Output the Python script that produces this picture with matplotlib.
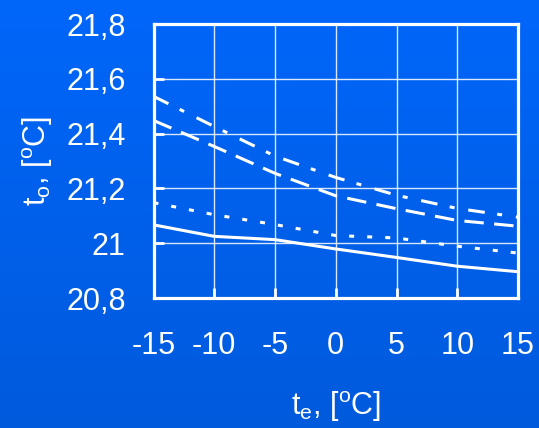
import numpy as np
import matplotlib
matplotlib.use("Agg")
import matplotlib.pyplot as plt
from matplotlib.colors import LinearSegmentedColormap

plt.rcParams['font.family'] = ['Liberation Sans', 'DejaVu Sans']
plt.rcParams['mathtext.fontset'] = 'custom'
plt.rcParams['mathtext.rm'] = 'Liberation Sans'
plt.rcParams['mathtext.it'] = 'Liberation Sans'
plt.rcParams['lines.scale_dashes'] = False

te = [-15, -10, -5, 0, 5, 10, 15]
solid = [21.067, 21.025, 21.013, 20.979, 20.948, 20.916, 20.896]
dotted = [21.148, 21.104, 21.068, 21.028, 21.019, 20.989, 20.964]
dashed = [21.448, 21.353, 21.255, 21.173, 21.126, 21.083, 21.062]
dashdot = [21.536, 21.426, 21.318, 21.240, 21.175, 21.127, 21.095]

xticks = [-15, -10, -5, 0, 5, 10, 15]
yticks = [20.8, 21.0, 21.2, 21.4, 21.6, 21.8]
ytick_labels = ['20,8', '21', '21,2', '21,4', '21,6', '21,8']

W, H = 539, 428
fig = plt.figure(figsize=(W / 100, H / 100), dpi=100)

# background gradient
bg = fig.add_axes([0, 0, 1, 1], zorder=-10)
cmap = LinearSegmentedColormap.from_list('bg', ['#0066FA', '#005ADC'])
grad = np.linspace(0, 1, 256).reshape(-1, 1)
bg.imshow(grad, aspect='auto', cmap=cmap, extent=[0, 1, 0, 1], origin='upper')
bg.axis('off')

left, right, top, bottom = 153.5, 518, 24, 298
ax = fig.add_axes([left / W, 1 - bottom / H, (right - left) / W, (bottom - top) / H])
ax.set_facecolor('none')

lw = 2.2
ax.plot(te, solid, color='white', lw=lw, solid_capstyle='butt')
l2, = ax.plot(te, dotted, color='white', lw=lw)
l2.set_dashes([3.6, 9.4])
l3, = ax.plot(te, dashed, color='white', lw=lw)
l3.set_dashes([14, 7.5])
l4, = ax.plot(te, dashdot, color='white', lw=lw)
l4.set_dashes([12, 9, 3.6, 10])

ax.set_xlim(-15, 15)
ax.set_ylim(20.8, 21.8)
ax.set_xticks(xticks)
ax.set_xticklabels([str(v) for v in xticks])
ax.set_yticks(yticks)
ax.set_yticklabels(ytick_labels)

ax.grid(True, color='white', lw=1.0, alpha=0.85)
ax.set_axisbelow(True)
for s in ax.spines.values():
    s.set_color('white')
    s.set_linewidth(2.3)

fs = 22
ax.tick_params(axis='both', direction='in', colors='white', labelsize=fs,
               length=7, width=2)
ax.tick_params(axis='y', pad=20)
ax.tick_params(axis='x', pad=24)

ax.set_xlabel(r'$\mathregular{t_e}$, [$\mathregular{^o}$C]', color='white', fontsize=fs, labelpad=20)
ax.set_ylabel(r'$\mathregular{t_o}$, [$\mathregular{^o}$C]', color='white', fontsize=fs, labelpad=8)

fig.savefig('out.png', dpi=100)
